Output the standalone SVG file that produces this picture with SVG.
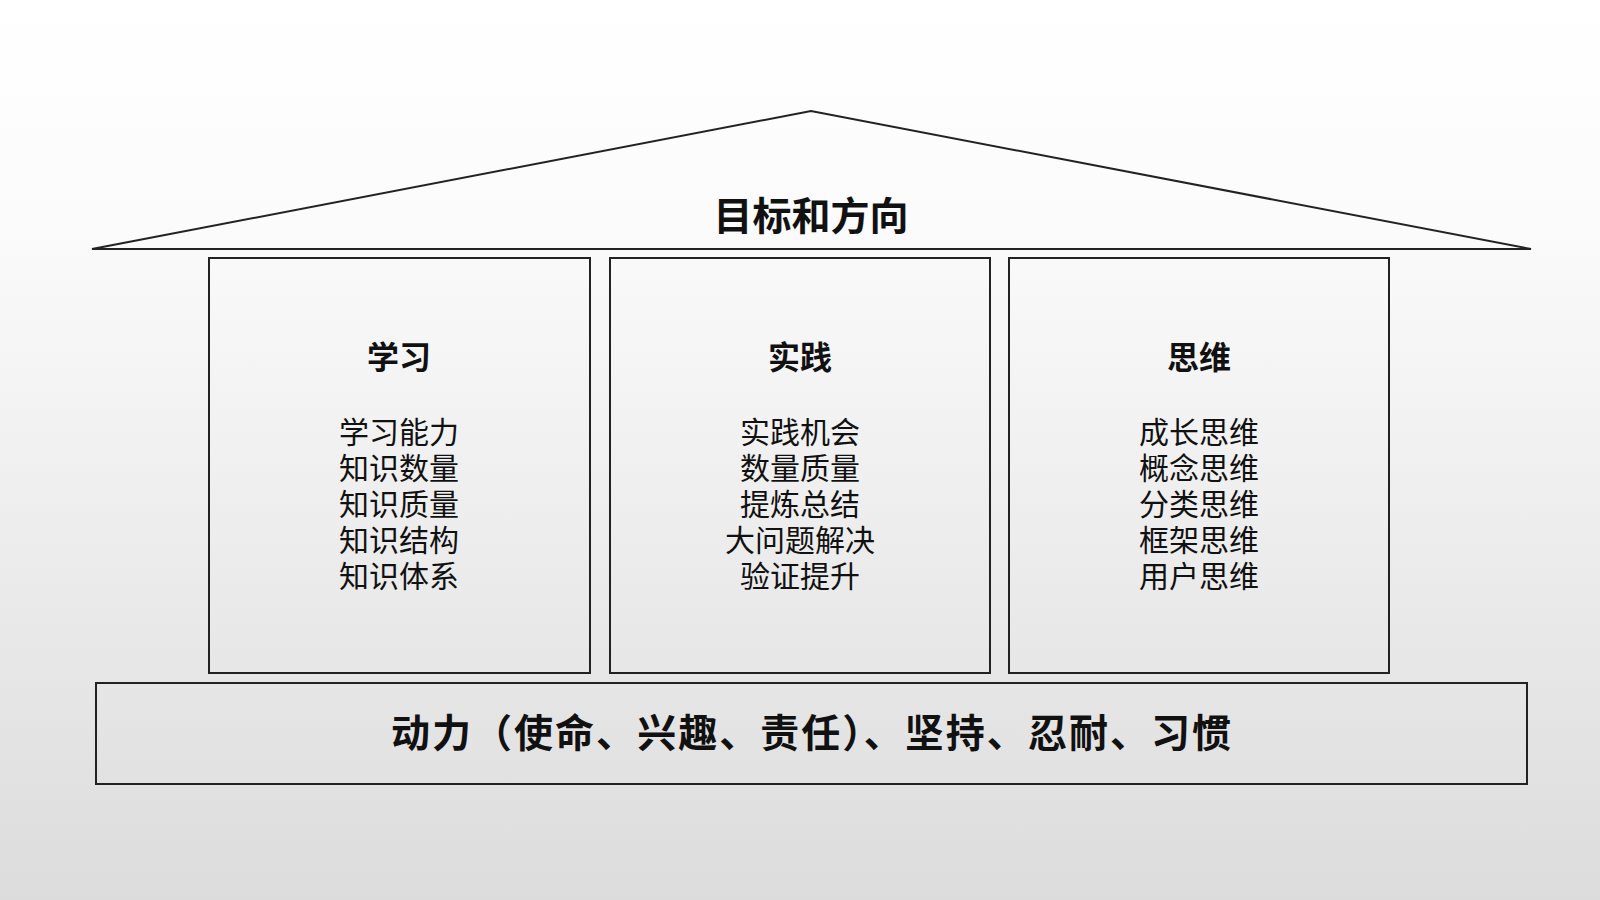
<svg xmlns="http://www.w3.org/2000/svg" width="1600" height="900" viewBox="0 0 1600 900">
<defs>
<linearGradient id="bg" x1="0" y1="0" x2="0" y2="1"><stop offset="0" stop-color="#ffffff"/><stop offset="0.25" stop-color="#fbfbfb"/><stop offset="1" stop-color="#dcdcdc"/></linearGradient>
<style>
.t{font-family:"Liberation Sans","Noto Sans CJK SC",sans-serif;fill:#111;text-anchor:middle}
.b{font-weight:bold}
.i{font-size:30px}
.h{font-size:32px}
.box{fill:none;stroke:#222;stroke-width:2}
</style>
</defs>
<rect width="1600" height="900" fill="url(#bg)"/>
<g id="roof"><polygon points="92,249 811,111 1531,249" fill="none" stroke="#222" stroke-width="2"/>
<text class="t b" x="811" y="230" font-size="39">目标和方向</text></g>
<g id="learn"><rect class="box" x="209" y="258" width="381" height="415"/>
<text class="t b h" x="399" y="369">学习</text>
<text class="t i" x="399" y="443">学习能力</text>
<text class="t i" x="399" y="479">知识数量</text>
<text class="t i" x="399" y="515">知识质量</text>
<text class="t i" x="399" y="551">知识结构</text>
<text class="t i" x="399" y="587">知识体系</text></g>
<g id="practice"><rect class="box" x="610" y="258" width="380" height="415"/>
<text class="t b h" x="800" y="369">实践</text>
<text class="t i" x="800" y="443">实践机会</text>
<text class="t i" x="800" y="479">数量质量</text>
<text class="t i" x="800" y="515">提炼总结</text>
<text class="t i" x="800" y="551">大问题解决</text>
<text class="t i" x="800" y="587">验证提升</text></g>
<g id="think"><rect class="box" x="1009" y="258" width="380" height="415"/>
<text class="t b h" x="1199" y="369">思维</text>
<text class="t i" x="1199" y="443">成长思维</text>
<text class="t i" x="1199" y="479">概念思维</text>
<text class="t i" x="1199" y="515">分类思维</text>
<text class="t i" x="1199" y="551">框架思维</text>
<text class="t i" x="1199" y="587">用户思维</text></g>
<g id="base"><rect class="box" x="96" y="683" width="1431" height="101"/>
<text class="t b" x="811" y="747" font-size="39" textLength="840" lengthAdjust="spacing">动力（使命、兴趣、责任）、坚持、忍耐、习惯</text></g>
<g id="connectors"/>
</svg>
